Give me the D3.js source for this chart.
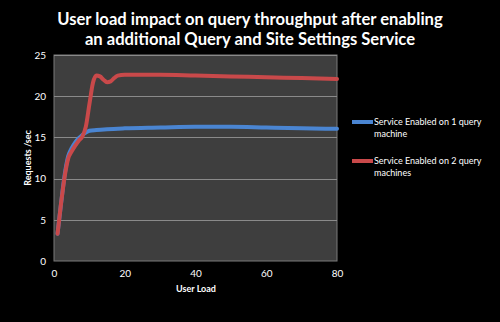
<!DOCTYPE html>
<html><head><meta charset="utf-8">
<script src="https://cdn.jsdelivr.net/npm/d3@7"></script>
<style>html,body{margin:0;padding:0;background:#000;}svg{display:block;}</style>
</head><body>
<svg id="chart" width="500" height="322"></svg>
<script>
const titleLines = ["User load impact on query throughput after enabling", "an additional Query and Site Settings Service"];
const xTicks = [0, 20, 40, 60, 80];
const yTicks = [0, 5, 10, 15, 20, 25];
const seriesNames = ["Service Enabled on 1 query machine", "Service Enabled on 2 query machines"];
const userLoad1 = [1, 2, 3, 4, 5, 6, 7, 8, 9, 10, 12, 15, 20, 30, 40, 50, 60, 70, 80];
const throughput1 = [3.3, 7.0, 10.4, 12.7, 13.7, 14.4, 14.9, 15.3, 15.6, 15.8, 15.9, 16.0, 16.1, 16.2, 16.3, 16.3, 16.2, 16.1, 16.05];
const userLoad2 = [1, 2, 3, 4, 5, 6, 7, 8, 9, 10, 11, 12, 13, 14, 15, 16, 17, 18, 20, 30, 40, 50, 60, 70, 80];
const throughput2 = [3.3, 7.0, 10.2, 12.4, 13.3, 14.0, 14.6, 15.1, 16.3, 19.0, 21.6, 22.5, 22.4, 22.0, 21.7, 21.8, 22.2, 22.5, 22.6, 22.6, 22.5, 22.4, 22.3, 22.2, 22.1];
const colors = ["#4a85d2", "#c9494a"];

const svg = d3.select("#chart");
const L = 54, R = 337, T = 55, B = 261;
const x = d3.scaleLinear().domain([0, 80]).range([L, R]);
const y = d3.scaleLinear().domain([0, 25]).range([B, T]);

svg.append("rect").attr("x", 0).attr("y", 0).attr("width", 500).attr("height", 322).attr("fill", "#000");

svg.selectAll("text.title").data(titleLines).enter().append("text")
  .attr("class", "title")
  .attr("x", 250).attr("y", (d, i) => 25 + i * 20)
  .attr("text-anchor", "middle")
  .attr("fill", "#fff").attr("font-family", "Lato, 'Open Sans', sans-serif")
  .attr("font-weight", "bold").attr("font-size", 16.6)
  .text(d => d);

// plot background
svg.append("rect").attr("x", L).attr("y", T).attr("width", R - L).attr("height", B - T)
  .attr("fill", "#3e3e3e").attr("stroke", "#7a7a7a").attr("stroke-width", 1);

// gridlines
svg.append("g").selectAll("line").data(yTicks.filter(d => d > 0)).enter().append("line")
  .attr("x1", L).attr("x2", R).attr("y1", d => Math.round(y(d)) + 0.5).attr("y2", d => Math.round(y(d)) + 0.5)
  .attr("stroke", "#8a8a8a").attr("stroke-width", 1);

// axes
const yAxis = svg.append("g").attr("transform", `translate(${L},0)`)
  .call(d3.axisLeft(y).tickValues(yTicks).tickSize(0).tickPadding(8));
yAxis.select(".domain").remove();
yAxis.selectAll("text").attr("fill", "#fff").attr("font-family", "Lato, sans-serif").attr("font-size", 10);

const xAxis = svg.append("g").attr("transform", `translate(0,${B})`)
  .call(d3.axisBottom(x).tickValues(xTicks).tickSize(0).tickPadding(9));
xAxis.select(".domain").remove();
xAxis.selectAll("text").attr("fill", "#fff").attr("font-family", "Lato, sans-serif").attr("font-size", 10);

svg.append("text").attr("x", 196).attr("y", 292).attr("text-anchor", "middle")
  .attr("fill", "#fff").attr("font-family", "Lato, sans-serif").attr("font-weight", "bold").attr("font-size", 9)
  .text("User Load");
svg.append("text").attr("transform", "translate(31,158) rotate(-90)").attr("text-anchor", "middle")
  .attr("fill", "#fff").attr("font-family", "Lato, sans-serif").attr("font-weight", "bold").attr("font-size", 9)
  .text("Requests /sec");

// lines
const line = d3.line().x(d => x(d[0])).y(d => y(d[1])).curve(d3.curveMonotoneX);
const data1 = userLoad1.map((v, i) => [v, throughput1[i]]);
const data2 = userLoad2.map((v, i) => [v, throughput2[i]]);
[data1, data2].forEach((dd, i) => {
  svg.append("path").datum(dd).attr("d", line).attr("fill", "none")
    .attr("stroke", colors[i]).attr("stroke-width", 4).attr("stroke-linejoin", "round").attr("stroke-linecap", "round");
});

// legend
const legendY = [122, 161];
const legendLines = [["Service Enabled on 1 query", "machine"], ["Service Enabled on 2 query", "machines"]];
legendY.forEach((ly, i) => {
  svg.append("line").attr("x1", 352).attr("x2", 373).attr("y1", ly).attr("y2", ly)
    .attr("stroke", colors[i]).attr("stroke-width", 4);
  svg.append("text").attr("x", 374).attr("y", ly + 3).attr("fill", "#fff")
    .attr("font-family", "Lato, sans-serif").attr("font-size", 9)
    .selectAll("tspan").data(legendLines[i]).enter().append("tspan")
    .attr("x", 374).attr("dy", (d, j) => j === 0 ? 0 : 12).text(d => d);
});
</script>
</body></html>
